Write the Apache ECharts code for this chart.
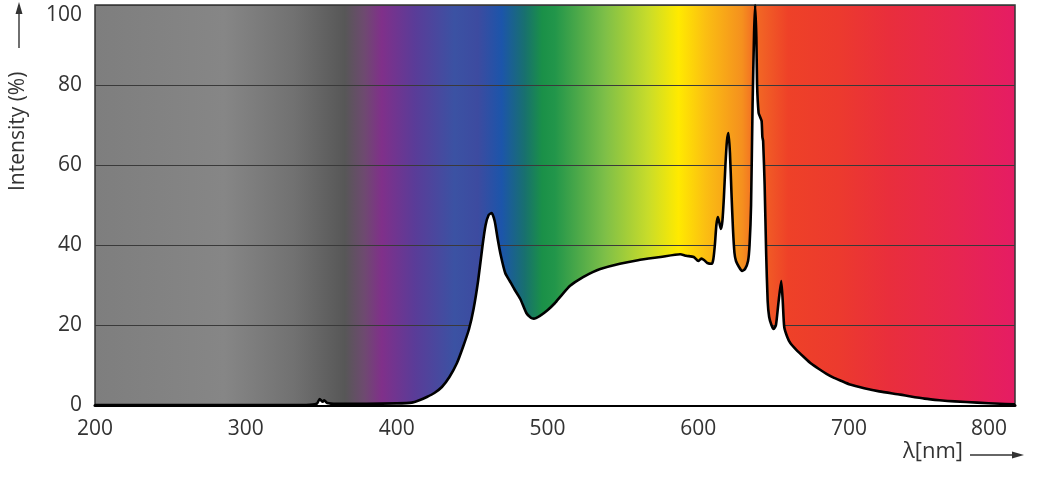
<!DOCTYPE html>
<html>
<head>
<meta charset="utf-8">
<script src="https://cdn.jsdelivr.net/npm/echarts@6/dist/echarts.min.js"></script>
<style>
    html, body {margin: 0; padding: 0; background: #fff;}
    #chart {width: 1063px; height: 495px;}
</style>
</head>
<body>
<div id="chart"></div>
<script>
// spectrum, wavelength in nm and relative intensity in %
const wavelengths = [
    200, 340, 347, 349, 351, 352, 354, 360, 380, 400, 410, 415, 420, 425, 430, 435, 440, 444, 448, 451,
    454, 457, 459, 461, 463, 465, 467, 469, 472, 475, 478, 482, 486, 489, 491, 495, 500, 505, 509, 515,
    522, 530, 535, 548, 560, 575, 588, 592, 597, 600, 602, 604, 606, 609, 610, 611, 612, 613, 614, 615,
    616, 617, 618, 619, 620, 621, 622, 623, 624, 625, 627, 629, 631, 633, 634, 635, 636, 637, 637.7, 638.5,
    639, 640, 641, 642, 642.5, 643, 644, 645, 646, 647, 648.5, 650, 651.5, 653, 655, 656, 657, 659, 661, 665,
    670, 675, 680, 685, 690, 695, 700, 710, 720, 734, 740, 750, 760, 770, 785, 800, 810
];
const intensity = [
    0, 0, 0.3, 1.5, 0.8, 1.2, 0.5, 0.3, 0.3, 0.4, 0.6, 1.2, 2, 3, 4.5, 7, 10.5, 14.5, 19, 24,
    31, 40, 45, 47.5, 48, 46, 41.5, 37.5, 33, 31, 29, 26.5, 23, 21.8, 21.6, 22.3, 23.7, 25.5, 27.3, 29.8,
    31.6, 33.2, 34, 35.3, 36.2, 37, 37.7, 37.3, 37, 36, 36.6, 36.2, 35.5, 35.3, 36.5, 40, 45, 47, 45.5, 44,
    46, 52, 60, 66, 68, 63, 53, 44, 38, 36, 34.5, 33.5, 34, 36, 40, 50, 75, 93, 100, 92,
    80, 73, 72, 71, 67, 66, 55, 38, 26, 22, 20, 19, 20, 25, 31, 26, 19.5, 17, 15.5, 13.8,
    12, 10.3, 9, 7.8, 6.8, 6, 5.2, 4.2, 3.4, 2.6, 2.2, 1.6, 1.2, 0.9, 0.6, 0.3, 0.2
];
const xTicks = [200, 300, 400, 500, 600, 700, 800];
const yTicks = [0, 20, 40, 60, 80, 100];

// colour band behind the plot (offset along the axis, colour)
const bandStops = [
    [0, '#7e7e7e'], [0.141, '#868686'], [0.217, '#717171'], [0.272, '#575757'],
    [0.293, '#6e4a70'], [0.312, '#80308a'], [0.348, '#5a3c98'], [0.391, '#3b52a3'],
    [0.416, '#3d4ba0'], [0.442, '#1c55aa'], [0.467, '#18706f'], [0.486, '#1a9048'],
    [0.5, '#22964a'], [0.554, '#7dbf48'], [0.601, '#c8dc2a'], [0.634, '#ffea00'],
    [0.663, '#fbbf12'], [0.703, '#f5901e'], [0.717, '#f26a24'], [0.753, '#ee4128'],
    [0.808, '#ec3a2e'], [0.862, '#e92e3c'], [0.935, '#e72650'], [1, '#e51c64']
];

const font = '"Open Sans", "Noto Sans", sans-serif';
const textColor = '#333';

let chart = echarts.init(document.getElementById('chart'));

let option = {
    backgroundColor: '#fff',
    animation: false,
    grid: {
        left: 95,
        right: 48,
        top: 5,
        bottom: 90,
        outerBoundsMode: 'none',
        show: true,
        borderColor: '#333',
        borderWidth: 1.5,
        backgroundColor: new echarts.graphic.LinearGradient(0, 0, 1, 0,
            bandStops.map(s => ({offset: s[0], color: s[1]})))
    },
    xAxis: {
        type: 'value',
        min: 200,
        max: 810,
        interval: 100,
        axisLine: {show: true, lineStyle: {color: '#000', width: 3}},
        axisTick: {show: false},
        splitLine: {show: false},
        axisLabel: {
            margin: 14,
            fontSize: 21,
            fontFamily: font,
            color: textColor,
            customValues: xTicks,
            // last label sits a little left of its tick, as in the original
            formatter: v => v === 800 ? '{r|800}' : String(v),
            rich: {r: {fontSize: 21, fontFamily: font, color: textColor, padding: [0, 22, 0, 0]}}
        }
    },
    yAxis: {
        type: 'value',
        min: 0,
        max: 100,
        interval: 20,
        axisLine: {show: false},
        axisTick: {show: false},
        splitLine: {show: true, lineStyle: {color: '#3a3a3a', width: 1}},
        axisLabel: {
            margin: 13,
            fontSize: 21,
            fontFamily: font,
            color: textColor,
            customValues: yTicks,
            // top label pushed down so it stays inside the picture
            formatter: v => v === 100 ? '{t|100}' : String(v),
            rich: {t: {fontSize: 21, fontFamily: font, color: textColor, padding: [20, 0, 0, 0]}}
        }
    },
    series: [
        {
            type: 'line',
            data: wavelengths.map((w, i) => [w, intensity[i]]),
            showSymbol: false,
            smooth: 0.2,
            lineStyle: {color: '#000', width: 2.6, join: 'round'},
            areaStyle: {color: '#fff', opacity: 1},
            z: 3
        }
    ],
    graphic: [
        {
            type: 'text',
            left: 903,
            top: 441,
            style: {text: 'λ[nm]', fontSize: 22, fontFamily: font, fill: textColor}
        },
        {
            type: 'line',
            shape: {x1: 970, y1: 455, x2: 1014, y2: 455},
            style: {stroke: textColor, lineWidth: 1.4}
        },
        {
            type: 'polygon',
            shape: {points: [[1024, 455], [1012, 451.5], [1012, 458.5]]},
            style: {fill: textColor}
        },
        {
            type: 'text',
            x: 8,
            y: 191,
            rotation: Math.PI / 2,
            style: {text: 'Intensity (%)', fontSize: 21, fontFamily: font, fill: textColor}
        },
        {
            type: 'line',
            shape: {x1: 19, y1: 48, x2: 19, y2: 12},
            style: {stroke: textColor, lineWidth: 1.4}
        },
        {
            type: 'polygon',
            shape: {points: [[19, 2], [15.5, 14], [22.5, 14]]},
            style: {fill: textColor}
        }
    ]
};

chart.setOption(option);
</script>
</body>
</html>
